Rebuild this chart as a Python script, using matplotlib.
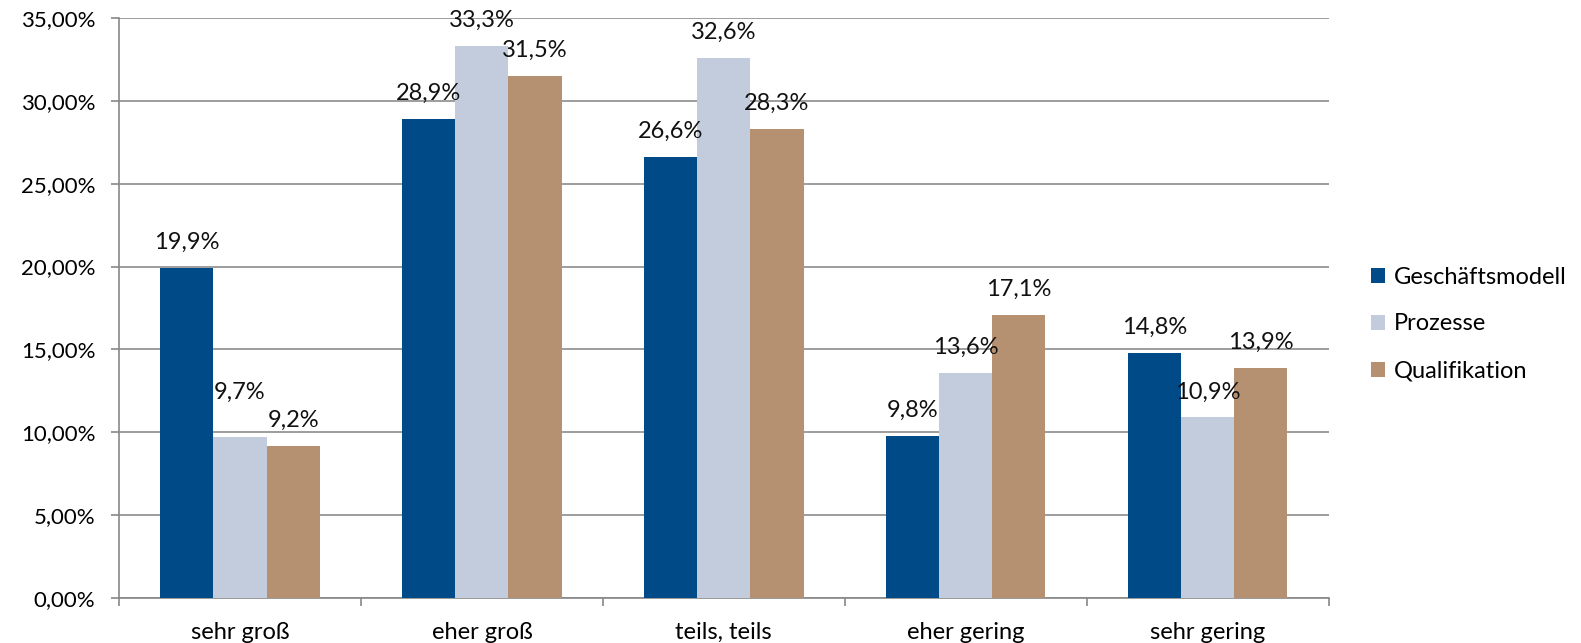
import matplotlib
matplotlib.use("Agg")
import matplotlib.pyplot as plt
import numpy as np
from matplotlib.ticker import FuncFormatter, MultipleLocator

categories = ["sehr groß", "eher groß", "teils, teils", "eher gering", "sehr gering"]
series_names = ["Geschäftsmodell", "Prozesse", "Qualifikation"]
geschaeftsmodell = [19.9, 28.9, 26.6, 9.8, 14.8]
prozesse = [9.7, 33.3, 32.6, 13.6, 10.9]
qualifikation = [9.2, 31.5, 28.3, 17.1, 13.9]
colors = ["#004B87", "#C3CCDD", "#B59171"]

# extra lift (in % units) for labels moved manually in the original
label_lift = {(1, 0): 1.2}

plt.rcParams['font.family'] = ['Lato', 'DejaVu Sans']
FS = 17
fig = plt.figure(figsize=(15.81, 6.43), dpi=100)
ax = fig.add_axes([0.0753, 0.070, 0.765, 0.902])

x = np.arange(len(categories))
w = 0.22
data = [geschaeftsmodell, prozesse, qualifikation]
for i, (vals, name, c) in enumerate(zip(data, series_names, colors)):
    pos = x + (i - 1) * w
    ax.bar(pos, vals, width=w, color=c, label=name, zorder=3)
    for j, (px, v) in enumerate(zip(pos, vals)):
        ax.text(px, v + 0.9 + label_lift.get((i, j), 0), f"{v:.1f}%".replace(".", ","),
                ha="center", va="bottom", fontsize=FS, color="#111111", zorder=4)

ax.set_xlim(-0.5, len(categories) - 0.5)
ax.set_ylim(0, 35)
ax.yaxis.set_major_locator(MultipleLocator(5))
ax.yaxis.set_major_formatter(FuncFormatter(lambda v, p: f"{v:.2f}%".replace(".", ",")))
ax.set_xticks(x)
ax.set_xticklabels(categories)
ax.set_xticks(np.arange(-0.5, len(categories)), minor=True)
ax.tick_params(axis="x", which="major", length=0, labelsize=FS, pad=17)
ax.tick_params(axis="x", which="minor", length=6, color="#888888", width=1.2)
ax.tick_params(axis="y", length=6, color="#888888", width=1.2, labelsize=16, pad=11)
ax.grid(axis="y", color="#8c8c8c", linewidth=1.2, zorder=0)
for s in ["top", "right"]:
    ax.spines[s].set_visible(False)
for s in ["left", "bottom"]:
    ax.spines[s].set_color("#888888")
    ax.spines[s].set_linewidth(1.2)

handles, labels = ax.get_legend_handles_labels()
fig.legend(handles, labels, loc="center left", bbox_to_anchor=(1371 / 1581, 1 - 324 / 643),
           frameon=False, fontsize=FS, handlelength=0.6, handleheight=0.6,
           handletextpad=0.35, labelspacing=1.1, borderaxespad=0, borderpad=0)

fig.savefig("out.png", dpi=100)
